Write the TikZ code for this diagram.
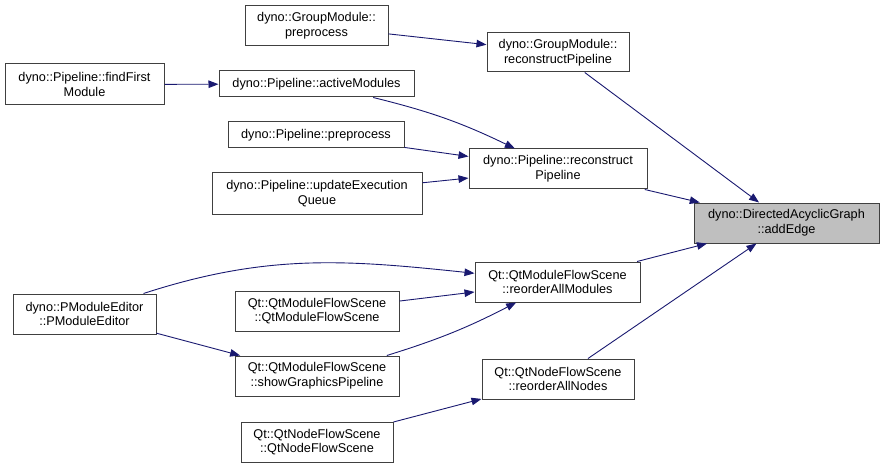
\documentclass[tikz,border=0pt]{standalone}
\usepackage{fontspec}
\setmainfont{Liberation Sans}
\usetikzlibrary{arrows.meta, positioning}
\definecolor{edgeblue}{RGB}{25, 25, 112}
\definecolor{boxline}{RGB}{64, 64, 64}
\definecolor{hlgray}{RGB}{191, 191, 191}

\begin{document}
\begin{tikzpicture}[
  x=1pt, y=1pt,
  fn/.style={draw=boxline, line width=1pt, fill=white, align=center, inner sep=0pt,
    font=\fontsize{12.7}{14.8}\selectfont},
  hl/.style={fn, fill=hlgray},
  edge/.style={draw=edgeblue, line width=0.9pt, -{Triangle[length=10pt, width=7.5pt]}}
]
  \useasboundingbox (0,0) rectangle (884,-468);

  % callers, left to right
  \node[fn, minimum width=143, minimum height=40] (gmPre) at (316.5,-26) {dyno::GroupModule::\\preprocess};
  \node[fn, minimum width=142, minimum height=39] (gmRec) at (558,-52.5) {dyno::GroupModule::\\reconstructPipeline};
  \node[fn, minimum width=159, minimum height=41] (findFirst) at (84.5,-84.5) {dyno::Pipeline::findFirst\\Module};
  \node[fn, minimum width=195, minimum height=26] (activeMod) at (316.5,-84) {dyno::Pipeline::activeModules};
  \node[fn, minimum width=176, minimum height=26] (pipePre) at (316,-135) {dyno::Pipeline::preprocess};
  \node[fn, minimum width=178, minimum height=40] (pipeRec) at (558,-169) {dyno::Pipeline::reconstruct\\Pipeline};
  \node[fn, minimum width=210, minimum height=41] (updQueue) at (317,-193.5) {dyno::Pipeline::updateExecution\\Queue};
  \node[hl, minimum width=185, minimum height=40] (addEdge) at (786.5,-223) {dyno::DirectedAcyclicGraph\\::addEdge};
  \node[fn, minimum width=165, minimum height=40] (reorderMod) at (557.5,-282) {Qt::QtModuleFlowScene\\::reorderAllModules};
  \node[fn, minimum width=143, minimum height=40] (pmEditor) at (84.5,-314) {dyno::PModuleEditor\\::PModuleEditor};
  \node[fn, minimum width=164, minimum height=40] (qmfsCtor) at (317,-311) {Qt::QtModuleFlowScene\\::QtModuleFlowScene};
  \node[fn, minimum width=164, minimum height=40] (showPipe) at (317,-376) {Qt::QtModuleFlowScene\\::showGraphicsPipeline};
  \node[fn, minimum width=152, minimum height=40] (reorderNodes) at (558,-379) {Qt::QtNodeFlowScene\\::reorderAllNodes};
  \node[fn, minimum width=152, minimum height=40] (qnfsCtor) at (317,-442) {Qt::QtNodeFlowScene\\::QtNodeFlowScene};

  % calls
  \draw[edge] (gmPre) -- (gmRec);
  \draw[edge] (gmRec) -- (addEdge);
  \draw[edge] (findFirst) -- (activeMod);
  \draw[edge] (activeMod) to[bend left=6] (pipeRec);
  \draw[edge] (pipePre) -- (pipeRec);
  \draw[edge] (updQueue) -- (pipeRec);
  \draw[edge] (pipeRec) -- (addEdge);
  \draw[edge] (reorderMod) -- (addEdge);
  \draw[edge] (reorderNodes) -- (addEdge);
  \draw[edge] ([xshift=-13pt]pmEditor.north east) to[out=18, in=174] (reorderMod);
  \draw[edge] (qmfsCtor) -- (reorderMod);
  \draw[edge] (showPipe) to[bend right=5] (reorderMod);
  \draw[edge] (pmEditor) -- (showPipe);
  \draw[edge] (qnfsCtor) -- (reorderNodes);
\end{tikzpicture}
\end{document}
